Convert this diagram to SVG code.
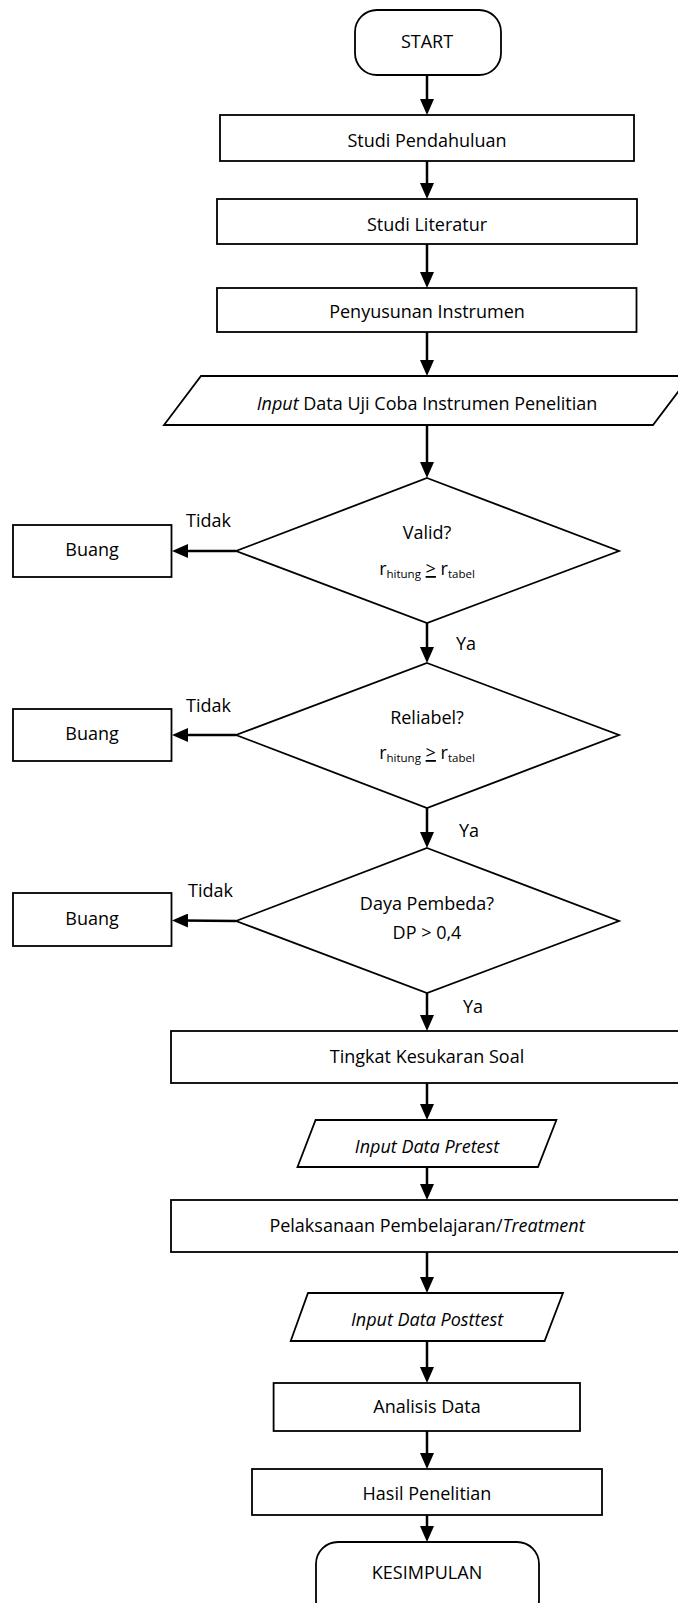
<svg xmlns="http://www.w3.org/2000/svg" width="678" height="1603" viewBox="0 0 678 1603">
<style>
text{font-family:"Open Sans","Liberation Sans",sans-serif;font-size:18px;fill:#000}
.c{text-anchor:middle}
.it{font-style:italic}
.sub{font-size:11.5px}
.box{fill:#fff;stroke:#000;stroke-width:1.8}
.con{stroke:#000;stroke-width:2.5;fill:none;marker-end:url(#ah)}
</style>
<defs>
<marker id="ah" markerUnits="userSpaceOnUse" markerWidth="16" markerHeight="14" viewBox="0 0 16 14" refX="6" refY="7" orient="auto">
<path d="M0,0 L16,7 L0,14 z" fill="#000"/>
</marker>
</defs>
<rect width="678" height="1603" fill="#fff"/>
<g id="connectors">
<line class="con" x1="427" y1="75" x2="427" y2="105"/>
<line class="con" x1="427" y1="161" x2="427" y2="189"/>
<line class="con" x1="427" y1="244" x2="427" y2="278"/>
<line class="con" x1="427" y1="332" x2="427" y2="366"/>
<line class="con" x1="427" y1="425" x2="427" y2="468"/>
<line class="con" x1="236" y1="551" x2="182" y2="551"/>
<line class="con" x1="427" y1="623" x2="427" y2="653"/>
<line class="con" x1="236" y1="735" x2="182" y2="735"/>
<line class="con" x1="427" y1="808" x2="427" y2="838"/>
<line class="con" x1="236" y1="921" x2="182" y2="920.5"/>
<line class="con" x1="427" y1="993" x2="427" y2="1021"/>
<line class="con" x1="427" y1="1083" x2="427" y2="1110"/>
<line class="con" x1="427" y1="1167" x2="427" y2="1190"/>
<line class="con" x1="427" y1="1252" x2="427" y2="1283"/>
<line class="con" x1="427" y1="1341" x2="427" y2="1373"/>
<line class="con" x1="427" y1="1431" x2="427" y2="1459"/>
<line class="con" x1="427" y1="1515" x2="427" y2="1532"/>
<text x="186" y="527">Tidak</text>
<text x="456" y="650">Ya</text>
<text x="186" y="712">Tidak</text>
<text x="459" y="837">Ya</text>
<text x="188" y="897">Tidak</text>
<text x="463" y="1013">Ya</text>
</g>
<g id="start">
<rect class="box" x="355" y="10" width="146" height="65" rx="22"/>
<text class="c" x="427" y="48">START</text>
</g>
<g id="studi-pendahuluan">
<rect class="box" x="220" y="115" width="414" height="46"/>
<text class="c" x="427" y="147">Studi Pendahuluan</text>
</g>
<g id="studi-literatur">
<rect class="box" x="217" y="199" width="420" height="45"/>
<text class="c" x="427" y="231">Studi Literatur</text>
</g>
<g id="penyusunan">
<rect class="box" x="217" y="288" width="419.5" height="44"/>
<text class="c" x="427" y="318">Penyusunan Instrumen</text>
</g>
<g id="input-uji">
<polygon class="box" points="201,376 690,376 653,425 164,425"/>
<text class="c" x="427" y="410"><tspan class="it">Input</tspan> Data Uji Coba Instrumen Penelitian</text>
</g>
<g id="valid">
<polygon class="box" points="427,478 619,551 427,623 236,551"/>
<text class="c" x="427" y="539">Valid?</text>
<text class="c" x="427" y="575">r<tspan class="sub" dy="3">hitung</tspan><tspan dy="-3"> </tspan><tspan style="text-decoration:underline">&gt;</tspan> r<tspan class="sub" dy="3">tabel</tspan></text>
</g>
<g id="buang1">
<rect class="box" x="13" y="525" width="158.5" height="52"/>
<text class="c" x="92" y="556">Buang</text>
</g>
<g id="reliabel">
<polygon class="box" points="427,663 619,735 427,808 236,735"/>
<text class="c" x="427" y="724">Reliabel?</text>
<text class="c" x="427" y="759">r<tspan class="sub" dy="3">hitung</tspan><tspan dy="-3"> </tspan><tspan style="text-decoration:underline">&gt;</tspan> r<tspan class="sub" dy="3">tabel</tspan></text>
</g>
<g id="buang2">
<rect class="box" x="13" y="709" width="158.5" height="52"/>
<text class="c" x="92" y="740">Buang</text>
</g>
<g id="daya-pembeda">
<polygon class="box" points="427,848 619,921 427,993 236,921"/>
<text class="c" x="427" y="910">Daya Pembeda?</text>
<text class="c" x="427" y="939">DP &gt; 0,4</text>
</g>
<g id="buang3">
<rect class="box" x="13" y="893" width="158.5" height="53"/>
<text class="c" x="92" y="925">Buang</text>
</g>
<g id="tingkat">
<rect class="box" x="171" y="1031" width="520" height="52"/>
<text class="c" x="427" y="1063">Tingkat Kesukaran Soal</text>
</g>
<g id="input-pretest">
<polygon class="box" points="315.6,1120 556.4,1120 538,1167 297.5,1167"/>
<text class="c it" x="427" y="1153">Input Data Pretest</text>
</g>
<g id="pelaksanaan">
<rect class="box" x="171" y="1200" width="520" height="52"/>
<text class="c" x="427" y="1232">Pelaksanaan Pembelajaran/<tspan class="it">Treatment</tspan></text>
</g>
<g id="input-posttest">
<polygon class="box" points="308,1293 563,1293 544.6,1341 290.7,1341"/>
<text class="c it" x="427" y="1326">Input Data Posttest</text>
</g>
<g id="analisis">
<rect class="box" x="273.6" y="1383" width="306.4" height="48"/>
<text class="c" x="427" y="1413">Analisis Data</text>
</g>
<g id="hasil">
<rect class="box" x="252" y="1469" width="350" height="46"/>
<text class="c" x="427" y="1500">Hasil Penelitian</text>
</g>
<g id="kesimpulan">
<rect class="box" x="316" y="1542" width="223" height="80" rx="22"/>
<text class="c" x="427" y="1579">KESIMPULAN</text>
</g>
</svg>
